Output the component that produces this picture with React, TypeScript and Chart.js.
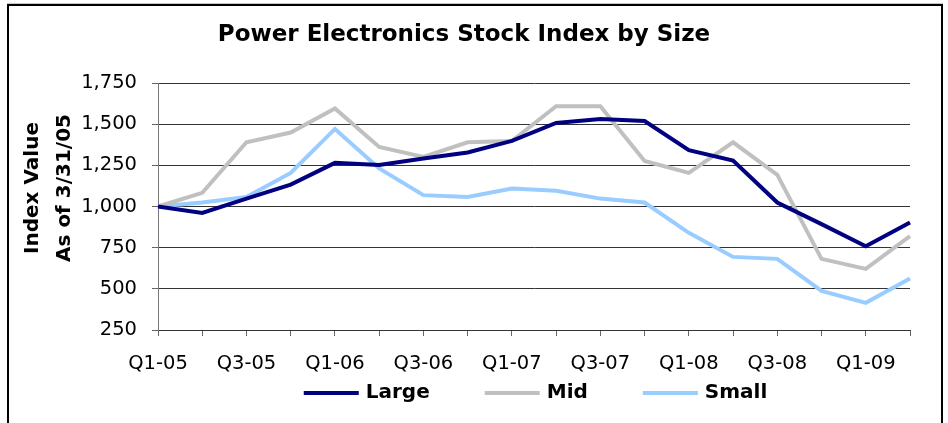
import React, { useEffect, useRef } from 'react';
import { Chart, registerables } from 'chart.js';

Chart.register(...registerables);

const categories = ['Q1-05', 'Q2-05', 'Q3-05', 'Q4-05', 'Q1-06', 'Q2-06', 'Q3-06', 'Q4-06', 'Q1-07', 'Q2-07', 'Q3-07', 'Q4-07', 'Q1-08', 'Q2-08', 'Q3-08', 'Q4-08', 'Q1-09', 'Q2-09'];
const large = [1000, 961, 1048, 1133, 1265, 1252, 1291, 1328, 1398, 1507, 1532, 1519, 1342, 1279, 1024, 893, 759, 903];
const mid = [1000, 1083, 1390, 1449, 1595, 1362, 1301, 1390, 1398, 1609, 1609, 1277, 1204, 1390, 1192, 682, 621, 820];
const small = [1000, 1024, 1058, 1204, 1471, 1231, 1069, 1058, 1109, 1095, 1048, 1024, 840, 694, 682, 488, 415, 563];
const seriesNames = ['Large', 'Mid', 'Small'];
const seriesColors = ['#000080', '#C0C0C0', '#99CCFF'];
const yMin = 250;
const yMax = 1750;
const yStep = 250;
const titleText = 'Power Electronics Stock Index by Size';
const yTitleLines = ['Index Value', 'As of 3/31/05'];

const FONT = '"DejaVu Sans", "Liberation Sans", Arial, sans-serif';

const overlayPlugin = {
  id: 'overlay',
  afterDraw(chart: any) {
    const { ctx, chartArea } = chart;
    ctx.save();
    ctx.fillStyle = '#000';
    // Title
    ctx.font = `bold 23px ${FONT}`;
    ctx.textAlign = 'center';
    ctx.textBaseline = 'alphabetic';
    ctx.fillText(titleText, 464, 41);

    // Y axis title (rotated)
    ctx.save();
    ctx.translate(38, 188);
    ctx.rotate(-Math.PI / 2);
    ctx.font = `bold 20px ${FONT}`;
    ctx.textAlign = 'center';
    ctx.fillText(yTitleLines[0], 0, 0);
    ctx.fillText(yTitleLines[1], 0, 32);
    ctx.restore();

    // Legend
    const lineLen = 55;
    const gap = 7;
    const spacing = 55;
    ctx.font = `bold 20px ${FONT}`;
    const items = chart.data.datasets.map((ds: any) => ({
      label: ds.label,
      color: ds.borderColor,
      w: ctx.measureText(ds.label).width,
    }));
    const total = items.reduce((s: number, it: any) => s + lineLen + gap + it.w, 0) + spacing * (items.length - 1);
    const cx = (chartArea.left + chartArea.right) / 2 + 1.5;
    let x = cx - total / 2;
    const ly = 393;
    ctx.textAlign = 'left';
    ctx.textBaseline = 'alphabetic';
    items.forEach((it: any) => {
      ctx.strokeStyle = it.color;
      ctx.lineWidth = 4;
      ctx.beginPath();
      ctx.moveTo(x, ly);
      ctx.lineTo(x + lineLen, ly);
      ctx.stroke();
      ctx.fillStyle = '#000';
      ctx.fillText(it.label, x + lineLen + gap, 398);
      x += lineLen + gap + it.w + spacing;
    });
    ctx.restore();
  },
};

export default function App() {
  const canvasRef = useRef<HTMLCanvasElement | null>(null);

  useEffect(() => {
    if (!canvasRef.current) return;
    const chart = new Chart(canvasRef.current, {
      type: 'line',
      data: {
        labels: categories,
        datasets: [large, mid, small].map((vals, i) => ({
          label: seriesNames[i],
          data: vals,
          borderColor: seriesColors[i],
          backgroundColor: seriesColors[i],
          borderWidth: 4,
          pointRadius: 0,
          tension: 0,
          fill: false,
        })),
      },
      options: {
        animation: false,
        responsive: false,
        devicePixelRatio: 1,
        layout: { padding: { left: 0, right: 38, top: 83, bottom: 0 } },
        plugins: {
          legend: { display: false },
          title: { display: false },
          tooltip: { enabled: false },
        },
        scales: {
          x: {
            type: 'category',
            offset: false,
            afterFit: (s: any) => {
              s.height = 93;
            },
            grid: {
              drawOnChartArea: false,
              drawTicks: true,
              tickLength: 6,
              tickColor: '#666',
            },
            border: { color: '#333', width: 1 },
            ticks: {
              autoSkip: false,
              maxRotation: 0,
              minRotation: 0,
              padding: 16,
              color: '#000',
              font: { family: FONT, size: 19.5 },
              callback: (_v: any, idx: number) => (idx % 2 === 0 ? categories[idx] : ''),
            },
          },
          y: {
            min: yMin,
            max: yMax,
            afterFit: (s: any) => {
              s.width = 158;
            },
            grid: {
              color: '#333',
              lineWidth: 1,
              drawTicks: true,
              tickLength: 6,
              tickColor: '#666',
            },
            border: { color: '#777', width: 1 },
            ticks: {
              stepSize: yStep,
              padding: 15,
              color: '#000',
              font: { family: FONT, size: 19.5 },
              callback: (v: any) => Number(v).toLocaleString('en-US'),
            },
          },
        },
      },
      plugins: [overlayPlugin],
    });
    return () => chart.destroy();
  }, []);

  return (
    <div style={{ position: 'fixed', left: 0, top: 0, width: 948, height: 423, overflow: 'hidden', background: '#fff' }}>
      <canvas ref={canvasRef} width={948} height={423} style={{ position: 'absolute', left: 0, top: 0 }} />
      <div style={{ position: 'absolute', left: 7, top: 3, width: 936, height: 1, background: '#c8c8c8' }} />
      <div
        style={{
          position: 'absolute',
          left: 7,
          top: 4,
          width: 932,
          height: 430,
          border: '2px solid #000',
          borderBottom: 'none',
          pointerEvents: 'none',
        }}
      />
    </div>
  );
}
